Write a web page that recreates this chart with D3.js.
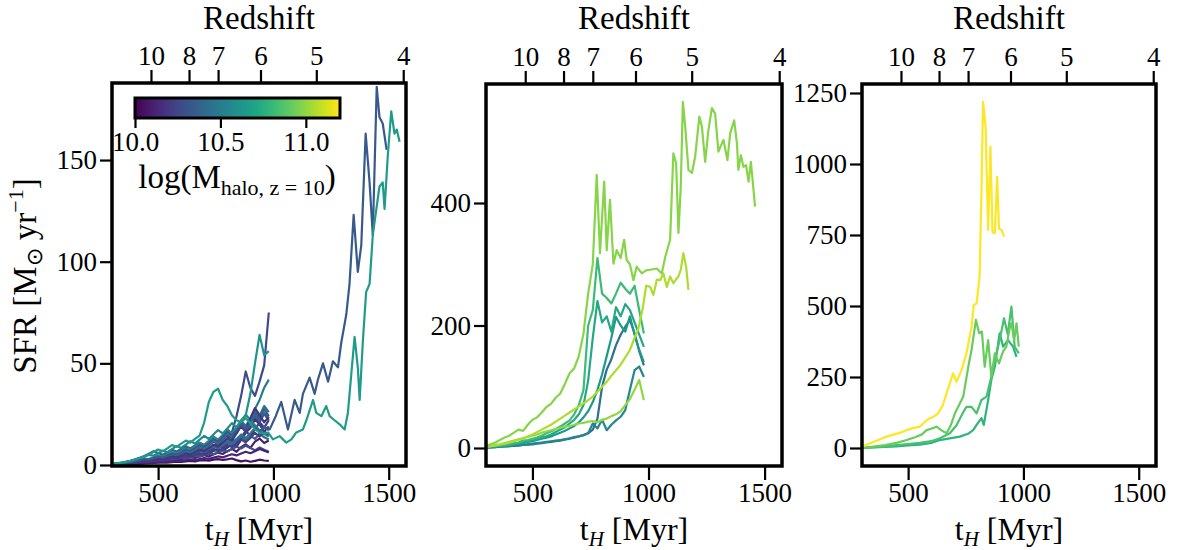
<!DOCTYPE html>
<html><head><meta charset="utf-8">
<script src="https://cdn.jsdelivr.net/npm/d3@7"></script>
<style>
body{margin:0;background:#fff;}
svg text{font-family:"Liberation Serif","Times New Roman",serif !important;fill:#000;}
</style></head><body>
<svg id="c" width="1181" height="550"></svg>
<script>
// ---------- DATA ----------
const xTicks = [500, 1000, 1500];
const zLabels = ["10", "8", "7", "6", "5", "4"];
const zTimes = [469, 634, 760, 944, 1186, 1563];
const leftYTicks = [0, 50, 100, 150];
const midYTicks = [0, 200, 400];
const rightYTicks = [0, 250, 500, 750, 1000, 1250];
const cbTicks = [10.0, 10.5, 11.0];
const cbRange = [10.0, 11.2];

const tGrid = [300,320,340,360,380,400,420,440,460,480,500,520,540,560,580,600,620,640,660,680,700,720,740,760,780,800,820,840,860,880,900,920,940,960,980];

// left panel: short histories (log halo mass, SFR on tGrid)
const leftMass = [10.05,10.10,10.15,10.20,10.27,10.25,10.30,10.33,10.36,10.40,10.43,10.46,10.48,10.55,10.62,10.12,10.22,10.18];
const leftSFR = [
 [0.2,0.3,0.4,0.4,0.5,0.6,0.7,0.8,0.9,1.0,1.1,1.3,1.2,1.4,1.6,1.5,1.8,2.0,1.7,2.2,2.4,2.1,2.6,2.9,2.5,2.8,3.2,2.4,1.8,2.2,1.6,2.0,2.6,2.2,2.0],
 [0.3,0.4,0.5,0.7,0.8,1.0,1.2,1.4,1.3,1.7,2.0,2.3,2.1,2.6,3.0,2.8,3.4,3.9,3.5,4.3,4.8,4.2,5.3,6.1,5.4,6.8,7.9,6.5,8.8,10.2,8.4,11.5,13.0,10.8,12.0],
 [0.3,0.5,0.6,0.8,1.0,1.2,1.5,1.8,1.6,2.1,2.5,2.9,2.6,3.2,3.8,3.5,4.2,4.9,4.4,5.3,6.0,5.4,6.9,7.8,7.0,8.6,10.1,9.0,12.4,15.8,18.2,22.5,20.0,16.4,19.0],
 [0.4,0.5,0.7,0.9,1.1,1.4,1.7,2.0,2.4,2.2,2.9,3.4,3.1,3.9,4.6,4.2,5.1,6.0,5.3,6.5,7.6,6.8,8.2,9.6,8.4,10.5,12.8,11.0,13.5,16.8,14.2,17.5,21.0,18.4,22.0],
 [0.3,0.4,0.6,0.8,1.0,1.3,1.6,1.9,2.3,2.1,2.8,3.3,3.0,3.8,4.5,4.1,5.2,6.2,5.6,7.0,8.3,7.4,9.1,11.2,10.0,12.6,16.0,24.0,34.0,46.0,38.0,34.0,41.0,49.0,75.0],
 [0.4,0.6,0.8,1.0,1.3,1.6,2.0,2.4,2.2,2.9,3.5,3.2,4.0,4.8,4.4,5.5,6.6,6.0,7.3,8.7,7.8,9.6,11.5,10.2,12.4,14.9,13.1,15.8,19.0,16.2,20.4,24.0,21.0,25.5,23.0],
 [0.3,0.4,0.5,0.7,0.9,1.1,1.4,1.3,1.7,2.0,1.8,2.3,2.7,2.5,3.0,3.5,3.2,3.9,4.5,4.1,4.9,5.7,5.2,6.2,7.3,6.6,7.8,9.0,8.1,9.5,8.4,7.2,8.6,7.5,6.5],
 [0.4,0.6,0.8,1.1,1.4,1.8,2.3,2.8,2.5,3.3,4.0,3.6,4.5,5.5,5.0,6.3,7.5,6.8,8.4,9.8,8.9,10.8,12.6,11.2,13.8,16.2,14.4,17.8,21.0,18.0,22.5,26.0,22.8,27.5,24.0],
 [0.5,0.8,1.2,1.6,2.1,2.8,3.5,4.4,5.6,6.8,5.9,5.0,6.2,7.5,6.6,8.0,9.2,8.1,9.6,11.0,9.8,11.8,13.5,12.0,14.2,16.8,15.0,17.6,20.5,18.2,21.0,24.5,21.8,25.0,22.0],
 [0.3,0.5,0.6,0.8,1.0,1.3,1.6,2.0,1.8,2.4,2.9,2.6,3.3,4.0,3.6,4.5,5.4,4.9,6.0,7.1,6.4,7.7,9.0,8.1,9.6,11.2,10.0,11.8,13.8,12.2,14.5,12.8,15.5,13.6,12.5],
 [0.4,0.6,0.9,1.2,1.6,2.0,2.6,3.2,2.9,3.8,4.6,4.1,5.2,6.3,5.7,7.0,8.4,7.6,9.2,10.8,9.7,11.8,13.9,12.4,14.8,17.5,15.6,18.5,21.8,19.2,23.0,27.0,24.2,29.0,26.0],
 [0.3,0.5,0.7,0.9,1.2,1.5,1.9,2.3,2.1,2.7,3.3,3.0,3.7,4.5,4.1,5.0,6.0,5.4,6.5,7.7,7.0,8.3,9.8,8.8,10.4,12.2,10.9,12.8,15.0,13.2,15.6,18.2,16.0,19.0,17.0],
 [0.4,0.6,0.8,1.1,1.4,1.8,2.2,2.7,2.5,3.2,3.9,3.5,4.4,5.3,4.8,5.9,7.1,6.4,7.8,9.2,8.3,10.1,12.0,10.8,13.0,15.5,14.0,16.8,20.2,18.0,22.0,27.5,32.0,38.0,42.0],
 [0.5,0.8,1.1,1.5,2.0,2.6,3.3,4.1,5.0,4.6,5.8,7.0,6.3,7.8,9.3,8.4,10.0,11.7,10.5,12.5,14.3,12.8,15.0,17.2,15.5,18.0,20.6,18.4,21.5,24.8,22.0,19.5,17.0,15.2,14.0],
 [0.4,0.6,0.9,1.2,1.5,1.9,2.4,3.0,2.8,3.6,4.4,4.0,5.0,6.1,5.5,6.8,8.1,7.3,8.9,10.5,9.5,11.5,13.6,12.2,14.6,17.2,15.4,18.5,22.0,24.5,35.0,50.0,64.0,54.0,56.0],
 [0.2,0.3,0.4,0.5,0.6,0.7,0.9,1.0,1.2,1.1,1.4,1.6,1.5,1.8,2.1,1.9,2.3,2.7,2.4,2.9,3.4,3.0,3.6,4.2,3.8,4.5,5.3,4.7,5.6,6.5,5.8,6.8,7.9,7.0,6.2],
 [0.3,0.4,0.6,0.7,0.9,1.1,1.4,1.7,1.5,2.0,2.4,2.2,2.7,3.3,3.0,3.7,4.4,4.0,4.9,5.8,5.2,6.4,7.6,6.8,8.2,9.8,8.8,10.6,12.6,11.2,13.3,15.8,14.0,16.5,14.8],
 [0.3,0.5,0.7,0.9,1.1,1.4,1.7,2.1,1.9,2.5,3.0,2.7,3.4,4.2,3.8,4.7,5.7,5.1,6.3,7.5,6.8,8.3,10.0,9.0,11.0,13.2,12.0,15.5,19.5,17.0,23.0,28.0,24.5,21.0,23.5]
];

// left panel: two long histories
const blueMass = 10.33;
const blueT = [300,320,340,360,380,400,420,440,460,480,500,520,540,560,580,600,620,640,660,680,700,720,740,760,780,800,820,840,860,880,900,920,940,960,984,1010,1034,1063,1092,1114,1128,1157,1179,1193,1215,1237,1258,1280,1294,1316,1330,1348,1366,1381,1400,1417,1431,1448,1460,1474,1491];
const blueSFR = [0.4,0.6,0.8,1.1,1.4,1.8,2.3,2.8,2.6,3.4,4.1,3.7,4.7,5.7,5.1,6.3,7.6,6.9,8.4,9.9,9.0,10.8,12.8,11.5,13.8,16.4,14.6,17.0,20.0,17.6,20.5,18.4,16.5,18.5,17.5,24,31,17.5,32,25.6,35,43,35,42,50,41,51,48,60,74,89,123,95,108,163,139,113,186,171,168,155];
const tealMass = 10.66;
const tealT = [300,320,340,360,380,400,420,440,460,480,500,520,540,560,580,600,620,640,660,680,700,720,740,760,780,800,820,840,860,880,900,920,940,960,977,998,1027,1056,1078,1099,1128,1143,1172,1186,1208,1229,1244,1265,1287,1309,1323,1338,1352,1366,1374,1388,1402,1417,1431,1438,1460,1474,1482,1496,1511,1525,1535,1547];
const tealSFR = [0.5,0.8,1.1,1.5,2.0,2.6,3.3,4.2,5.2,6.4,7.6,6.8,8.2,9.8,8.9,10.5,12.0,11.0,12.8,14.5,21.0,31.0,36.0,37.5,32.0,29.0,24.5,22.0,21.0,23.0,20.5,17.5,16.0,15.5,16,12.6,14.2,11,12.6,16,17.5,22,32,25.6,24,29,24,22,20,17.5,25.6,45,63,48,32,61,85,89,113,119,137,139,126,152,174,163,165,159];

// middle panel: histories on tGrid
const midMass = [10.45,10.55,10.65,10.72,10.82,11.00];
const midSFR = [
 [0.5,1,1.5,2,2.5,3,3.5,4,5,5.5,6,7,8,9,10,11,12,14,15,17,19,21,24,30,48,100,128,145,168,185,198,209,187,158,135],
 [0.5,1,1.5,2,2.5,3,4,4.5,5,6,7,8,9,10,11,12,13,14,16,18,19,21,24,40,32,46,29,38,45,51,62,95,127,133,116],
 [1,2,2,3,4,5,6,7,8,10,11,13,15,17,19,22,25,28,32,36,42,50,60,75,95,120,150,180,214,200,190,215,185,160,140],
 [1,2,3,3,4,5,6,8,9,11,12,14,17,19,22,26,30,34,40,46,55,70,110,180,240,205,215,190,230,215,235,225,205,185,165],
 [2,3,3,4,5,6,8,9,12,13,15,17,20,24,27,31,35,40,45,55,70,95,200,225,310,252,245,236,252,270,260,252,265,225,187],
 [2,3,5,6,8,10,12,14,16,18,20,22,25,27,29,31,33,35,36,38,40,41,43,44,42,46,48,52,55,60,70,80,95,111,78]
];
const mLongMass = 10.98;
const mLongT = [300,320,340,360,380,400,420,440,460,480,500,520,540,560,580,600,620,640,660,680,700,720,740,760,777,791,809,820,834,849,863,880,895,906,920,935,949,971,990,1007,1036,1057,1072,1093,1107,1119,1129,1139,1148,1158,1172,1187,1201,1219,1230,1244,1258,1273,1287,1301,1323,1340,1352,1369,1381,1387,1398,1409,1420,1431,1441,1459];
const mLongSFR = [3,6,9,13,17,20,25,30,28,38,46,50,58,67,72,82,89,105,122,130,150,187,252,300,446,318,435,323,405,301,323,310,340,307,300,274,296,285,290,291,293,285,312,340,481,465,351,427,565,525,454,449,476,541,525,467,519,555,546,484,503,470,514,535,497,454,478,459,462,435,467,394];
const mMidMass = 11.05;
const mMidT = [300,340,380,420,460,500,540,580,620,660,700,740,760,780,800,820,840,860,880,900,920,940,955,975,990,1007,1021,1036,1050,1064,1079,1093,1107,1118,1129,1139,1150,1162,1172];
const mMidSFR = [2,4,7,11,16,22,30,38,48,58,68,78,84,92,100,108,118,127,136,148,160,180,193,228,265,263,250,275,274,285,263,280,269,275,280,291,318,296,258];

// right panel histories
const rYelMass = 11.2;
const rYelT = [300,330,360,407,440,470,494,520,551,570,594,610,630,650,667,680,695,710,732,753,775,785,797,810,818,825,836,847,857,866,876,886,894,905,916];
const rYelSFR = [5,15,25,40,48,55,63,70,75,90,105,110,122,150,193,225,263,233,275,333,427,504,509,603,897,1219,1131,768,1061,760,756,955,773,768,744];
const rG1Mass = 10.92;
const rG1T = [300,350,400,450,494,530,560,580,600,623,645,667,685,703,720,739,761,775,794,808,820,832,847,861,876,894,912,926,940,948,960,970,980];
const rG1SFR = [0,5,10,18,28,38,48,63,68,75,62,52,80,122,150,181,286,345,451,404,410,286,380,251,333,298,340,357,420,440,380,439,357];
const rG2Mass = 10.85;
const rG2T = [300,350,400,450,500,550,600,640,681,710,735,753,775,797,818,840,861,883,897,916,932,948,962,980];
const rG2SFR = [0,3,6,10,14,18,24,35,52,80,120,145,145,122,169,181,251,333,380,457,400,498,357,333];
const rG3Mass = 10.78;
const rG3T = [300,350,400,450,500,550,600,638,680,724,760,782,800,818,828,847,861,876,897,912,933,955,970];
const rG3SFR = [0,2,4,6,9,12,18,28,34,40,50,63,85,105,81,169,240,286,404,357,380,357,321];

// ---------- BUILD ----------
const FONT = "'Liberation Serif', 'Times New Roman', serif";
const svg = d3.select("#c");
const color = m => d3.interpolateViridis((m - cbRange[0]) / (cbRange[1] - cbRange[0]));
const mk = (t, v, m) => ({m, pts: t.map((d, i) => [d, v[i]])});

const leftSeries = leftSFR.map((v, i) => mk(tGrid, v, leftMass[i]));
leftSeries.push(mk(blueT, blueSFR, blueMass));
leftSeries.push(mk(tealT, tealSFR, tealMass));
const midSeries = midSFR.map((v, i) => mk(tGrid, v, midMass[i]));
midSeries.push(mk(mMidT, mMidSFR, mMidMass));
midSeries.push(mk(mLongT, mLongSFR, mLongMass));
const rightSeries = [mk(rG3T, rG3SFR, rG3Mass), mk(rG2T, rG2SFR, rG2Mass), mk(rG1T, rG1SFR, rG1Mass), mk(rYelT, rYelSFR, rYelMass)];

const panels = [
  {x0:112, x1:406, y0:83, y1:466, ydom:[-0.5,187.9], yt:leftYTicks, series:leftSeries},
  {x0:486, x1:782, y0:84, y1:466, ydom:[-29.4,594.3], yt:midYTicks, series:midSeries},
  {x0:862, x1:1156, y0:84, y1:466, ydom:[-63.4,1281.7], yt:rightYTicks, series:rightSeries}
];

const TICKFS = 27;
const style = (sel) => {
  sel.attr("font-family", null).attr("font-size", null);
  sel.select(".domain").remove();
  sel.selectAll(".tick line").attr("stroke", "#000").attr("stroke-width", 2.2);
  sel.selectAll(".tick text").style("font-size", TICKFS + "px").style("font-family", FONT);
};

panels.forEach((p, k) => {
  const x = d3.scaleLinear([300, 1575], [p.x0, p.x1]);
  const y = d3.scaleLinear(p.ydom, [p.y1, p.y0]);
  const g = svg.append("g");
  const clipId = "clip" + k;
  svg.append("clipPath").attr("id", clipId).append("rect")
    .attr("x", p.x0).attr("y", p.y0).attr("width", p.x1 - p.x0).attr("height", p.y1 - p.y0);
  const line = d3.line().x(d => x(d[0])).y(d => y(d[1]));
  g.append("g").attr("clip-path", `url(#${clipId})`)
    .selectAll("path").data(p.series).join("path")
    .attr("d", d => line(d.pts)).attr("fill", "none")
    .attr("stroke", d => color(d.m)).attr("stroke-width", 2.2)
    .attr("stroke-linejoin", "round");

  g.append("g").attr("transform", `translate(0,${p.y1})`)
    .call(d3.axisBottom(x).tickValues(xTicks).tickSize(14).tickPadding(3).tickFormat(d3.format("d"))).call(style);
  g.append("g").attr("transform", `translate(0,${p.y0})`)
    .call(d3.axisTop(x).tickValues(zTimes).tickSize(13).tickPadding(5).tickFormat((d, i) => zLabels[i])).call(style);
  g.append("g").attr("transform", `translate(${p.x0},0)`)
    .call(d3.axisLeft(y).tickValues(p.yt).tickSize(12).tickPadding(3).tickFormat(d3.format("d"))).call(style);

  g.append("rect").attr("x", p.x0).attr("y", p.y0).attr("width", p.x1 - p.x0).attr("height", p.y1 - p.y0)
    .attr("fill", "none").attr("stroke", "#000").attr("stroke-width", 3.5);

  const cx = (p.x0 + p.x1) / 2;
  g.append("text").attr("x", cx).attr("y", 29).attr("text-anchor", "middle").style("font-size", "33px").text("Redshift");
  const xl = g.append("text").attr("x", cx).attr("y", 540).attr("text-anchor", "middle").style("font-size", "32px");
  xl.append("tspan").text("t");
  xl.append("tspan").style("font-size", "21px").attr("font-style", "italic").attr("dy", 6).text("H");
  xl.append("tspan").attr("dy", -6).text(" [Myr]");
});

// y label
const yl = svg.append("text").attr("transform", "translate(36,276) rotate(-90)").attr("text-anchor", "middle").style("font-size", "33px");
yl.append("tspan").text("SFR [M");
yl.append("tspan").style("font-size", "22px").attr("dy", 6).text("⊙");
yl.append("tspan").attr("dy", -6).text(" yr");
yl.append("tspan").style("font-size", "22px").attr("dy", -13).text("−1");
yl.append("tspan").attr("dy", 13).text("]");

// colorbar
const cb = d3.scaleLinear(cbRange, [135, 340]);
const defs = svg.append("defs");
const grad = defs.append("linearGradient").attr("id", "vir").attr("x1", "0%").attr("x2", "100%");
d3.range(0, 1.0001, 0.05).forEach(s => grad.append("stop").attr("offset", (s * 100) + "%").attr("stop-color", d3.interpolateViridis(s)));
svg.append("rect").attr("x", 135).attr("y", 98).attr("width", 205).attr("height", 20)
  .attr("fill", "url(#vir)").attr("stroke", "#000").attr("stroke-width", 3);
const cbg = svg.append("g").attr("transform", "translate(0,119)")
  .call(d3.axisBottom(cb).tickValues(cbTicks).tickSize(9).tickPadding(4).tickFormat(d3.format(".1f"))).call(style);
const cl = svg.append("text").attr("x", 237).attr("y", 188).attr("text-anchor", "middle").style("font-size", "33px");
cl.append("tspan").text("log(M");
cl.append("tspan").style("font-size", "22px").attr("dy", 7).text("halo, z = 10");
cl.append("tspan").attr("dy", -7).text(")");
</script></body></html>
